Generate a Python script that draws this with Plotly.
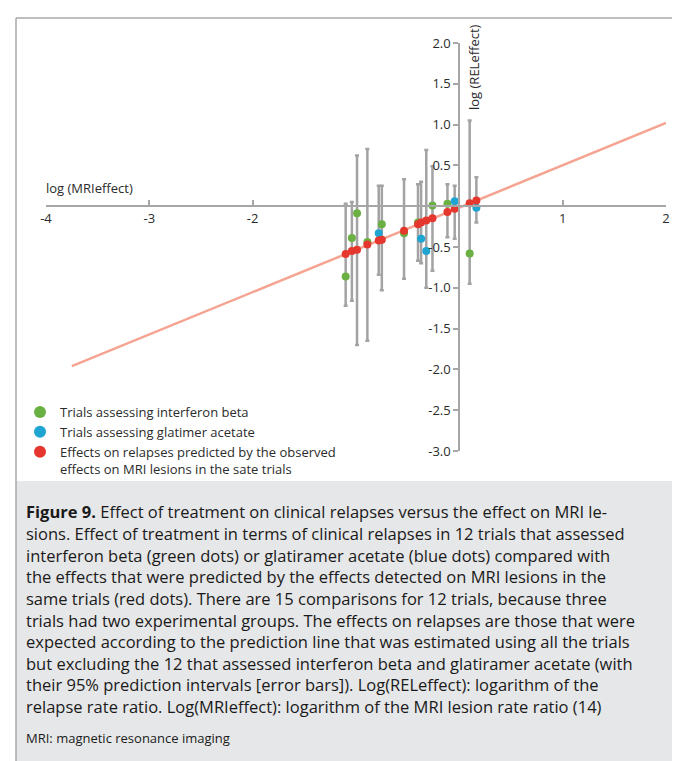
import plotly.graph_objects as go

# ---------------- data ----------------
mri_effect = [-1.10, -1.04, -0.99, -0.89, -0.78, -0.75, -0.535, -0.40,
              -0.37, -0.32, -0.26, -0.115, -0.045, 0.10, 0.165]
group = ["ifn", "ifn", "ifn", "ifn", "ga", "ifn", "ifn", "ifn",
         "ga", "ga", "ifn", "ifn", "ga", "ifn", "ga"]
observed_rel = [-0.86, -0.39, -0.086, -0.44, -0.33, -0.22, -0.33, -0.20,
                -0.40, -0.55, 0.01, 0.03, 0.06, -0.58, -0.02]
predicted_rel = [-0.585, -0.55, -0.535, -0.47, -0.42, -0.41, -0.30, -0.22,
                 -0.20, -0.175, -0.147, -0.07, -0.03, 0.037, 0.07]
pi_upper = [0.03, 0.05, 0.62, 0.70, 0.25, 0.25, 0.33, 0.27,
            0.30, 0.69, 0.49, 0.27, 0.25, 1.05, 0.355]
pi_lower = [-1.22, -1.16, -1.70, -1.65, -0.84, -1.03, -0.89, -0.67,
            -0.70, -1.00, -0.79, -0.38, -0.40, -0.95, -0.20]

line_x = [-3.75, 2.0]
line_y = [-1.96, 1.02]

x_tickvals = [-4, -3, -2, 1, 2]
x_ticktext = ["-4", "-3", "-2", "1", "2"]
y_tickvals = [2.0, 1.5, 1.0, 0.5, -0.5, -1.0, -1.5, -2.0, -2.5, -3.0]
y_ticktext = ["2.0", "1.5", "1.0", "0.5", "-0.5", "-1.0", "-1.5", "-2.0", "-2.5", "-3.0"]

legend_names = ["Trials assessing interferon beta",
                "Trials assessing glatimer acetate",
                "Effects on relapses predicted by the observed<br>effects on MRI lesions in the sate trials"]

caption_lines = [
    "<b>Figure 9.</b> Effect of treatment on clinical relapses versus the effect on MRI le-",
    "sions. Effect of treatment in terms of clinical relapses in 12 trials that assessed",
    "interferon beta (green dots) or glatiramer acetate (blue dots) compared with",
    "the effects that were predicted by the effects detected on MRI lesions in the",
    "same trials (red dots). There are 15 comparisons for 12 trials, because three",
    "trials had two experimental groups. The effects on relapses are those that were",
    "expected according to the prediction line that was estimated using all the trials",
    "but excluding the 12 that assessed interferon beta and glatiramer acetate (with",
    "their 95% prediction intervals [error bars]). Log(RELeffect): logarithm of the",
    "relapse rate ratio. Log(MRIeffect): logarithm of the MRI lesion rate ratio (14)",
]
footnote = "MRI: magnetic resonance imaging"

# ---------------- layout helpers (pixels) ----------------
W, H = 680, 761
L, R, T, B = 38, 658, 35, 443
FONT = "'Open Sans', 'Noto Sans', sans-serif"
TXT = "#2b2b2b"


def pxx(px):
    return (px - L) / (R - L)


def pxy(py):
    return (B - py) / (B - T)


GREEN = "#6bb043"
BLUE = "#1ea5d2"
RED = "#e5372d"

fig = go.Figure()

fig.add_trace(go.Scatter(x=line_x, y=line_y, mode="lines",
                         line=dict(color="#f5a491", width=2.5),
                         showlegend=False, hoverinfo="skip"))

err_plus = [u - p for u, p in zip(pi_upper, predicted_rel)]
err_minus = [p - l for p, l in zip(predicted_rel, pi_lower)]
fig.add_trace(go.Scatter(x=mri_effect, y=predicted_rel, mode="markers",
                         marker=dict(size=1, color="rgba(0,0,0,0)"),
                         error_y=dict(type="data", symmetric=False,
                                      array=err_plus, arrayminus=err_minus,
                                      color="#a3a3a3", thickness=2.5, width=2),
                         showlegend=False, hoverinfo="skip"))

gx = [x for x, g in zip(mri_effect, group) if g == "ifn"]
gy = [y for y, g in zip(observed_rel, group) if g == "ifn"]
bx = [x for x, g in zip(mri_effect, group) if g == "ga"]
by = [y for y, g in zip(observed_rel, group) if g == "ga"]

fig.add_trace(go.Scatter(x=gx, y=gy, mode="markers", name=legend_names[0],
                         marker=dict(size=8, color=GREEN)))
fig.add_trace(go.Scatter(x=bx, y=by, mode="markers", name=legend_names[1],
                         marker=dict(size=8, color=BLUE)))
fig.add_trace(go.Scatter(x=mri_effect, y=predicted_rel, mode="markers",
                         name=legend_names[2],
                         marker=dict(size=8, color=RED)))

shapes = [
    dict(type="rect", xref="paper", yref="paper",
         x0=pxx(8), x1=pxx(W + 5), y0=pxy(473), y1=pxy(H + 5),
         fillcolor="#e6e7e8", line=dict(width=0), layer="below"),
    dict(type="line", xref="paper", yref="paper",
         x0=pxx(8), x1=pxx(W + 5), y0=pxy(10), y1=pxy(10),
         line=dict(color="#a9a9a9", width=1.5)),
    dict(type="line", xref="paper", yref="paper",
         x0=pxx(8), x1=pxx(8), y0=pxy(10), y1=pxy(H + 5),
         line=dict(color="#a9a9a9", width=1.5)),
]

annotations = [
    dict(text="log (MRIeffect)", xref="paper", yref="paper",
         x=pxx(36), y=pxy(191), xanchor="left", yanchor="bottom",
         showarrow=False, font=dict(family=FONT, size=13, color=TXT)),
    dict(text="log (RELeffect)", xref="paper", yref="paper",
         x=pxx(455), y=pxy(14), xanchor="left", yanchor="top",
         textangle=-90, showarrow=False,
         font=dict(family=FONT, size=13, color=TXT)),
]

line_y0 = 504
spacing = 21.6
for i, t in enumerate(caption_lines):
    annotations.append(dict(text=t, xref="paper", yref="paper",
                            x=pxx(16), y=pxy(line_y0 + i * spacing),
                            xanchor="left", yanchor="middle", showarrow=False,
                            font=dict(family=FONT, size=16.5, color="#1a1a1a")))
annotations.append(dict(text=footnote, xref="paper", yref="paper",
                        x=pxx(16), y=pxy(line_y0 + 10 * spacing + 10),
                        xanchor="left", yanchor="middle", showarrow=False,
                        font=dict(family=FONT, size=13, color="#1a1a1a")))

fig.update_layout(
    width=W, height=H,
    margin=dict(l=L, r=W - R, t=T, b=H - B, pad=0, autoexpand=False),
    paper_bgcolor="white", plot_bgcolor="rgba(0,0,0,0)",
    font=dict(family=FONT, size=13, color=TXT),
    shapes=shapes, annotations=annotations,
    showlegend=True,
    legend=dict(xref="container", yref="container",
                x=12 / W, y=1 - 389 / H, xanchor="left", yanchor="top",
                bgcolor="rgba(0,0,0,0)", borderwidth=0,
                font=dict(family=FONT, size=13, color=TXT),
                tracegroupgap=0, itemsizing="constant", valign="top",
                itemclick=False, itemdoubleclick=False),
    xaxis=dict(range=[-4, 2], anchor="free", position=0.6,
               showline=True, linecolor="#a6a6a6", linewidth=2,
               ticks="inside", ticklen=5, tickwidth=2, tickcolor="#a6a6a6",
               tickvals=x_tickvals, ticktext=x_ticktext,
               showgrid=False, zeroline=False,
               tickfont=dict(family=FONT, size=13, color=TXT)),
    yaxis=dict(range=[-3, 2], anchor="free", position=4 / 6,
               showline=True, linecolor="#a6a6a6", linewidth=2,
               ticks="outside", ticklen=5, tickwidth=2, tickcolor="#a6a6a6",
               tickvals=y_tickvals, ticktext=y_ticktext,
               showgrid=False, zeroline=False,
               tickfont=dict(family=FONT, size=13, color=TXT)),
)

fig.write_html("out.html")
